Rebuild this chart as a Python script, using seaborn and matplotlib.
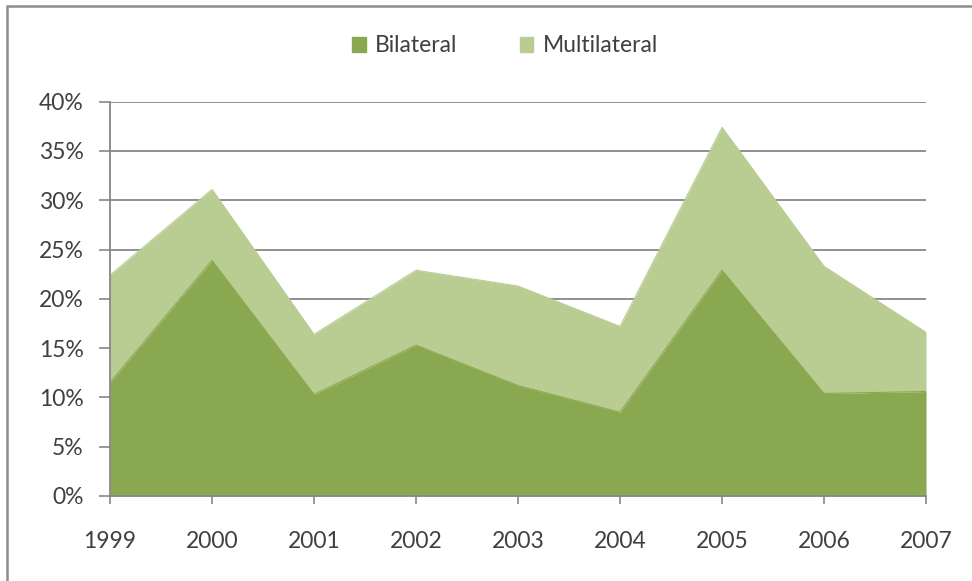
import matplotlib
matplotlib.use("Agg")
import matplotlib.pyplot as plt
from matplotlib.patches import Rectangle
from matplotlib.ticker import FuncFormatter, MultipleLocator
import seaborn as sns
import pandas as pd

years = [1999, 2000, 2001, 2002, 2003, 2004, 2005, 2006, 2007]
bilateral = [11.5, 23.9, 10.3, 15.3, 11.2, 8.5, 22.9, 10.4, 10.6]
multilateral = [10.9, 7.2, 6.1, 7.6, 10.1, 8.7, 14.5, 12.9, 6.0]
series_names = ["Bilateral", "Multilateral"]
series_colors = ["#8aa850", "#b9cd93"]

sns.set_theme(style="white")
plt.rcParams["font.family"] = ["Lato", "DejaVu Sans"]

df = pd.DataFrame({"year": years, "Bilateral": bilateral, "Multilateral": multilateral})
df["total"] = df["Bilateral"] + df["Multilateral"]

fig = plt.figure(figsize=(9.72, 5.81), dpi=100)
ax = fig.add_axes([0.1132, 0.1463, 0.9527 - 0.1132, 0.8250 - 0.1463])

grid_color = "#878787"
text_color = "#404040"

# stacked areas
ax.fill_between(df["year"], 0, df["Bilateral"], color=series_colors[0], lw=0,
                zorder=2, label=series_names[0])
ax.fill_between(df["year"], df["Bilateral"], df["total"], color=series_colors[1], lw=0,
                zorder=2, label=series_names[1])
sns.lineplot(data=df, x="year", y="Bilateral", ax=ax, color=series_colors[0], lw=0.8,
             zorder=3, legend=False)
sns.lineplot(data=df, x="year", y="total", ax=ax, color=series_colors[1], lw=0.8,
             zorder=2.5, legend=False)

ax.set_xlim(1999, 2007)
ax.set_ylim(0, 40)
ax.yaxis.set_major_locator(MultipleLocator(5))
ax.yaxis.set_major_formatter(FuncFormatter(lambda v, p: f"{v:.0f}%"))
ax.set_xticks(years)
ax.set_xticklabels([str(y) for y in years])
ax.set_xlabel("")
ax.set_ylabel("")

ax.grid(axis="y", color=grid_color, lw=1.3, zorder=1)
ax.grid(axis="x", visible=False)
ax.set_axisbelow(True)

for side in ["top", "right"]:
    ax.spines[side].set_visible(False)
for side in ["left", "bottom"]:
    ax.spines[side].set_color(grid_color)
    ax.spines[side].set_linewidth(1.3)
    ax.spines[side].set_zorder(4)

ax.tick_params(axis="y", which="major", length=8, width=1.2, color=grid_color,
               pad=11, labelsize=16.5, labelcolor=text_color, left=True)
ax.tick_params(axis="x", which="major", length=6, width=1.2, color=grid_color,
               pad=19, labelsize=16.5, labelcolor=text_color, bottom=True)

handles = [Rectangle((0, 0), 1, 1, color=c) for c in series_colors]
fig.legend(handles, series_names, loc="center", bbox_to_anchor=(505 / 972, 1 - 46 / 581),
           ncol=2, frameon=False, fontsize=16.5, labelcolor=text_color,
           handlelength=0.6, handleheight=0.6, handletextpad=0.4, columnspacing=2.7)

# outer chart frame
fig.patches.append(Rectangle((7 / 972, -0.1), 1.2, 1 - 6 / 581 + 0.1,
                             transform=fig.transFigure, fill=False,
                             edgecolor="#8c8c8c", lw=1.8))

fig.savefig("out.png", dpi=100)
